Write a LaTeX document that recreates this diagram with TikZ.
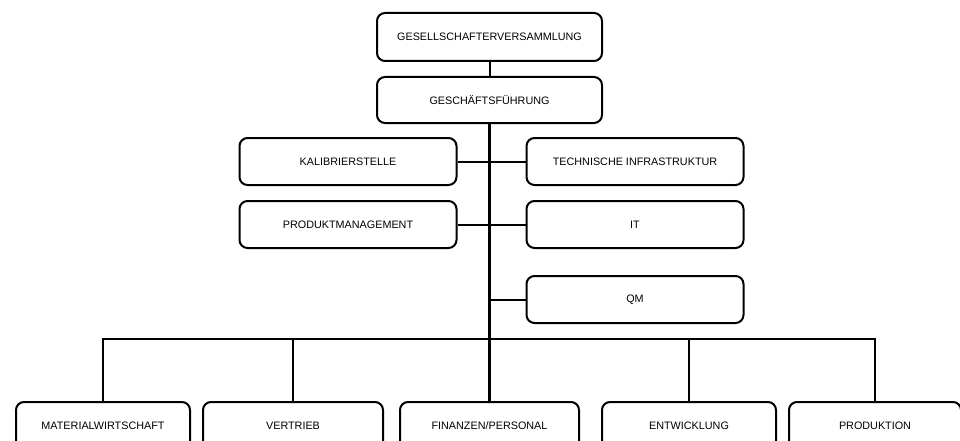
\documentclass[tikz,border=0pt]{standalone}
\usepackage{fontspec}
\setmainfont{Liberation Sans}
\tikzset{
    unit/.style={rectangle,rounded corners=8pt,draw=black,line width=2pt, minimum height=47pt, inner sep=0, font=\fontsize{10.8}{12}\selectfont},
    staff/.style={unit, minimum width=217pt},
    dept/.style={unit, minimum height=47pt},
    link/.style={line width=2pt},
    trunk/.style={line width=3pt}
}
\begin{document}
\begin{tikzpicture}[x=1pt,y=-1pt]
    \useasboundingbox[fill=white] (0,0) rectangle (960,441);
    \clip (0,0) rectangle (960,441);
    % top level
    \node[unit, minimum width=225pt, minimum height=48pt] (gv) at (489.5,37) {GESELLSCHAFTERVERSAMMLUNG};
    \node[unit, minimum width=225pt, minimum height=46pt] (gf) at (489.5,100) {GESCHÄFTSFÜHRUNG};
    % staff units
    \node[staff] (kal) at (348,161.5) {KALIBRIERSTELLE};
    \node[staff] (tech) at (635,161.5) {TECHNISCHE INFRASTRUKTUR};
    \node[staff] (pm) at (348,224.5) {PRODUKTMANAGEMENT};
    \node[staff] (it) at (635,224.5) {IT};
    \node[staff] (qm) at (635,299.5) {QM};
    % departments
    \node[dept, minimum width=174pt] (mat) at (103,425.5) {MATERIALWIRTSCHAFT};
    \node[dept, minimum width=180pt] (vert) at (293,425.5) {VERTRIEB};
    \node[dept, minimum width=179pt] (fin) at (489.5,425.5) {FINANZEN/PERSONAL};
    \node[dept, minimum width=174pt] (ent) at (689,425.5) {ENTWICKLUNG};
    \node[dept, minimum width=172pt] (prod) at (875,425.5) {PRODUKTION};
    % connectors
    \coordinate (qmj) at (489.5,299.5);
    \coordinate (bus) at (489.5,339);
    \draw[link] (gv) -- (gf);
    \draw[trunk] (gf) -- (fin);
    \draw[link] (kal) -- (tech);
    \draw[link] (pm) -- (it);
    \draw[link] (qmj) -- (qm);
    \draw[link] (mat.north) |- (bus) -| (prod.north);
    \draw[link] (vert.north) -- (vert.north |- bus);
    \draw[link] (ent.north) -- (ent.north |- bus);
\end{tikzpicture}
\end{document}
